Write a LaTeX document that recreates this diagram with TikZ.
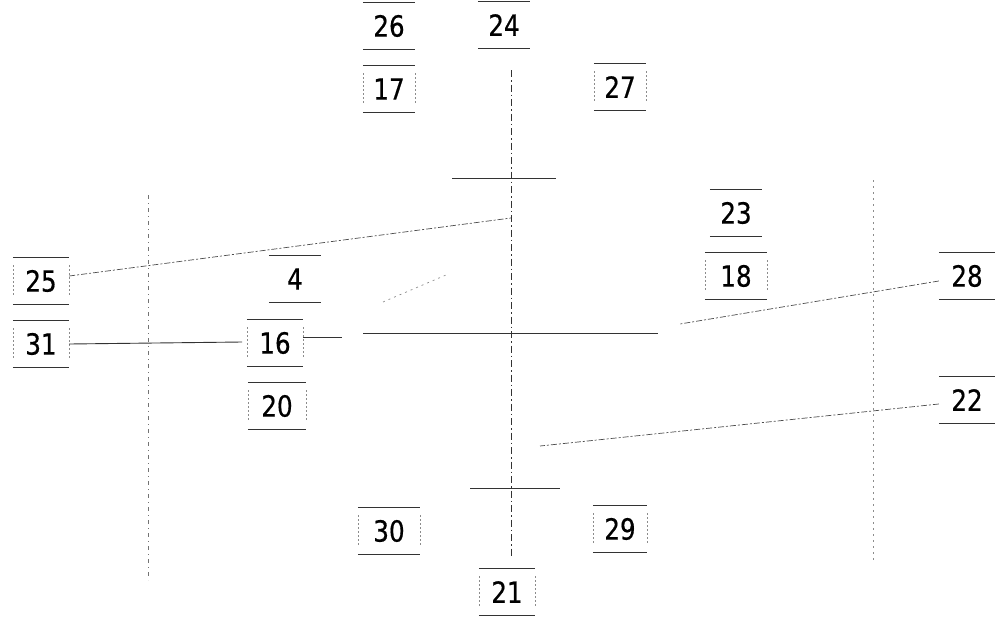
\documentclass[tikz,border=0pt]{standalone}
\usepackage{fontspec}
\setmainfont{DejaVu Sans}
\newfontfamily\numfont{DejaVu Sans}[FakeBold=0.6]
\newcommand{\lt}[1]{{\numfont\fontsize{28}{30}\selectfont\scalebox{0.88}[1.04]{#1}}}
\begin{document}
\begin{tikzpicture}[x=1pt,y=-1pt,
  lbox/.style={minimum width=#1, minimum height=47pt, inner sep=0pt, text=black},
  lbox/.default=52pt,
  rule/.style={line width=1.2pt, black!80},
  side/.style={line width=0.6pt, black!45, dash pattern=on 2pt off 2pt},
  axis/.style={line width=0.9pt, black!80, dash pattern=on 7pt off 3pt on 1.5pt off 3pt},
  solidl/.style={line width=0.9pt, black!80},
  leader/.style={line width=0.7pt, black!70, dash pattern=on 6pt off 2pt on 2pt off 2pt},
  faint/.style={line width=0.7pt, black!45, dash pattern=on 2pt off 4pt},
  aux/.style={line width=0.7pt, black!55, dash pattern=on 4pt off 4pt on 1pt off 4pt}]
\useasboundingbox (0,0) rectangle (995,618);
% labels
\node[lbox] (n26) at (389,26) {\lt{26}};
\node[lbox] (n24) at (504,25) {\lt{24}};
\node[lbox] (n17) at (389,89) {\lt{17}};
\node[lbox] (n27) at (620,87) {\lt{27}};
\node[lbox] (n23) at (736,213) {\lt{23}};
\node[lbox=62pt] (n18) at (736,276) {\lt{18}};
\node[lbox=56pt] (n25) at (41,281) {\lt{25}};
\node[lbox] (n4) at (295,279) {\lt{4}};
\node[lbox=56pt] (n28) at (967,276) {\lt{28}};
\node[lbox=56pt] (n31) at (41,344) {\lt{31}};
\node[lbox=56pt] (n16) at (275,343) {\lt{16}};
\node[lbox=58pt] (n20) at (277,406) {\lt{20}};
\node[lbox=56pt] (n22) at (967,400) {\lt{22}};
\node[lbox=62pt] (n30) at (389,531) {\lt{30}};
\node[lbox=54pt] (n29) at (620,529) {\lt{29}};
\node[lbox=56pt] (n21) at (507,592) {\lt{21}};
\foreach \n in {n26,n24,n17,n27,n23,n18,n25,n4,n28,n31,n16,n20,n22,n30,n29,n21}{
  \draw[rule] (\n.north west) -- (\n.north east);
  \draw[rule] (\n.south west) -- (\n.south east);
}
\foreach \n in {n18,n25,n31,n16,n20,n30,n29,n21,n17,n27}{
  \draw[side] ([yshift=-8pt]\n.north west) -- ([yshift=8pt]\n.south west);
  \draw[side] ([yshift=-8pt]\n.north east) -- ([yshift=8pt]\n.south east);
}
% structure
\coordinate (axT) at (511,70);
\coordinate (axB) at (511,556);
\draw[axis] (axT) -- (axB);
\coordinate (tL) at (452,178); \coordinate (tR) at (556,178);
\draw[solidl] (tL) -- (tR);
\coordinate (bL) at (470,488); \coordinate (bR) at (560,488);
\draw[solidl] (bL) -- (bR);
\coordinate (mL) at (363,333); \coordinate (mR) at (658,333);
\draw[solidl] (mL) -- (mR);
\coordinate (vlT) at (148,195); \coordinate (vlB) at (148,580);
\draw[aux] (vlT) -- (vlB);
\coordinate (vrT) at (873,180); \coordinate (vrB) at (873,562);
\draw[faint] (vrT) -- (vrB);
% leaders
\coordinate (e25) at (511,218);
\draw[leader] (n25.east) ++(0,-5) -- (e25);
\coordinate (e31) at (242,342);
\draw[solidl] (n31.east) -- (e31);
\coordinate (e16) at (342,337);
\draw[solidl] ([yshift=6pt]n16.east) -- (e16);
\coordinate (e28) at (680,324);
\draw[leader] ([yshift=-5pt]n28.west) -- (e28);
\coordinate (e22) at (540,446);
\draw[leader] ([yshift=-4pt]n22.west) -- (e22);
\coordinate (s4) at (383,302); \coordinate (e4) at (446,275);
\draw[faint] (s4) -- (e4);
\end{tikzpicture}
\end{document}
